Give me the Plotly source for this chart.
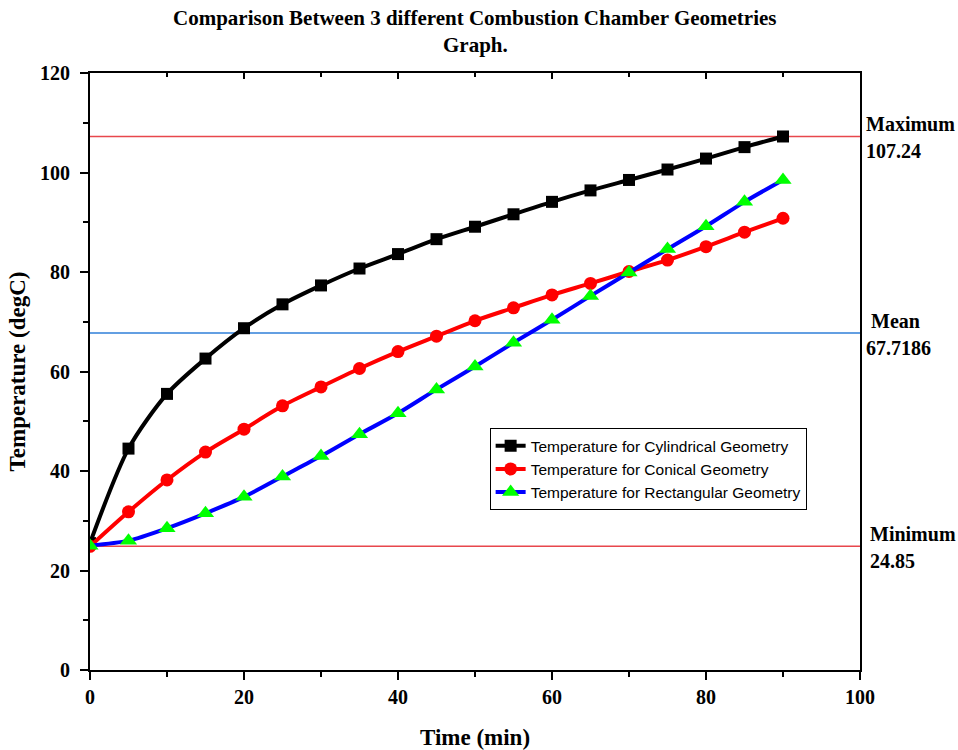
import plotly.graph_objects as go

# Time axis (min)
time_min = [0, 5, 10, 15, 20, 25, 30, 35, 40, 45, 50, 55, 60, 65, 70, 75, 80, 85, 90]

# Temperature (degC) for each combustion chamber geometry
temp_cylindrical = [25.5, 44.5, 55.5, 62.6, 68.7, 73.5, 77.3, 80.7, 83.6, 86.6,
                    89.1, 91.6, 94.1, 96.4, 98.5, 100.6, 102.8, 105.1, 107.24]
temp_conical = [24.85, 31.8, 38.2, 43.8, 48.4, 53.1, 56.9, 60.6, 64.0, 67.1,
                70.2, 72.8, 75.4, 77.7, 80.1, 82.4, 85.1, 88.0, 90.8]
temp_rectangular = [25.0, 26.0, 28.5, 31.5, 34.8, 38.9, 43.0, 47.4, 51.6, 56.4,
                    61.0, 65.8, 70.4, 75.2, 79.9, 84.6, 89.2, 94.1, 98.5]

# Summary statistics
stat_labels = ["Maximum", "Mean", "Minimum"]
stat_values = [107.24, 67.7186, 24.85]
stat_text = ["107.24", "67.7186", "24.85"]
stat_colors = ["#e8474c", "#2f7fd8", "#e8474c"]

title_lines = ["Comparison Between 3 different Combustion Chamber Geometries", "Graph."]

x_ticks = [0, 20, 40, 60, 80, 100]
y_ticks = [0, 20, 40, 60, 80, 100, 120]

SERIF = "Liberation Serif"
SANS = "Liberation Sans"

fig = go.Figure()

series = [
    ("Temperature for Cylindrical Geometry", temp_cylindrical, "#000000", "#000000", "square", 12),
    ("Temperature for Conical Geometry", temp_conical, "#ff0000", "#ff0000", "circle", 13),
    ("Temperature for Rectangular Geometry", temp_rectangular, "#0000ff", "#00ff00", "triangle-up", 15),
]
for name, vals, lc, mc, sym, ms in series:
    fig.add_trace(go.Scatter(
        x=time_min, y=vals, name=name, mode="lines+markers",
        line=dict(color=lc, width=4, shape="spline", smoothing=0.8),
        marker=dict(color=mc, symbol=sym, size=ms, line=dict(width=0)),
    ))

# Reference lines for max / mean / min
for val, col in zip(stat_values, stat_colors):
    fig.add_shape(type="line", xref="paper", x0=0, x1=1, yref="y", y0=val, y1=val,
                  line=dict(color=col, width=1.5), layer="below")

# Labels to the right of the plot area
label_x = [1.0055, 1.0115, 1.0105]
value_x = [1.0055, 1.0055, 1.0105]
for lab, val, txt, lx, vx in zip(stat_labels, stat_values, stat_text, label_x, value_x):
    fig.add_annotation(xref="paper", x=lx, yref="y", y=val, yshift=12, text=f"<b>{lab}</b>",
                       showarrow=False, xanchor="left", yanchor="middle",
                       font=dict(family=SERIF, size=20, color="#000000"))
    fig.add_annotation(xref="paper", x=vx, yref="y", y=val, yshift=-15, text=f"<b>{txt}</b>",
                       showarrow=False, xanchor="left", yanchor="middle",
                       font=dict(family=SERIF, size=20, color="#000000"))

# Two-line chart title
for line_text, ty in zip(title_lines, [1.0921, 1.0469]):
    fig.add_annotation(xref="paper", x=0.5, yref="paper", y=ty, text=f"<b>{line_text}</b>",
                       showarrow=False, xanchor="center", yanchor="middle",
                       font=dict(family=SERIF, size=21, color="#000000"))

# Empty trace to carry the top frame axis
fig.add_trace(go.Scatter(x=[None], y=[None], xaxis="x2", showlegend=False, hoverinfo="skip"))

tick_font = dict(family=SERIF, size=20, color="#000000", weight="bold")

fig.update_layout(
    width=958, height=750,
    margin=dict(l=90, r=98, t=73, b=80),
    paper_bgcolor="white", plot_bgcolor="white",
    xaxis=dict(
        range=[0, 100], tickvals=x_ticks, ticks="outside", ticklen=8, tickwidth=2,
        showline=True, linecolor="black", linewidth=2, tickcolor="black",
        showgrid=False, zeroline=False, tickfont=tick_font, automargin=False,
        minor=dict(dtick=10, tick0=0, ticks="outside", ticklen=5, tickwidth=2, tickcolor="black", showgrid=False),
        title=dict(text="<b>Time (min)</b>", font=dict(family=SERIF, size=23, color="#000000"), standoff=22),
    ),
    xaxis2=dict(
        range=[0, 100], overlaying="x", side="top", anchor="y", tickvals=x_ticks,
        ticks="inside", ticklen=6, tickwidth=2, tickcolor="black", showticklabels=False,
        showline=True, linecolor="black", linewidth=2, showgrid=False, zeroline=False,
        automargin=False,
        minor=dict(dtick=10, tick0=0, ticks="inside", ticklen=4, tickwidth=2, tickcolor="black", showgrid=False),
    ),
    yaxis=dict(
        range=[0, 120], tickvals=y_ticks, ticks="outside", ticklen=8, tickwidth=2,
        showline=True, linecolor="black", linewidth=2, tickcolor="black", mirror=True,
        showgrid=False, zeroline=False, tickfont=tick_font, ticklabelstandoff=6, automargin=False,
        minor=dict(dtick=10, tick0=0, ticks="outside", ticklen=5, tickwidth=2, tickcolor="black", showgrid=False),
        title=dict(text="<b>Temperature (degC)</b>", font=dict(family=SERIF, size=23, color="#000000"), standoff=8),
    ),
    legend=dict(
        x=0.519, xanchor="left", y=0.405, yanchor="top",
        bgcolor="white", bordercolor="black", borderwidth=1,
        font=dict(family=SANS, size=15.5, color="#000000"),
        tracegroupgap=0, itemwidth=30,
    ),
    showlegend=True,
)

fig.write_html("out.html")
